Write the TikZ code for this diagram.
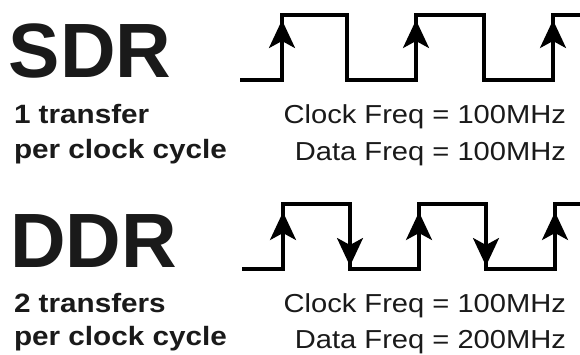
\documentclass[tikz,border=0pt]{standalone}
\usepackage{fontspec}
\setmainfont{Liberation Sans}
\newfontfamily\wfont[FakeStretch=1.12]{Liberation Sans}
\usetikzlibrary{arrows.meta}
\definecolor{ink}{HTML}{1A1A1A}
\tikzset{
  wave/.style={line width=3.2pt, line join=miter, black},
  edgearrow/.style={line width=3.2pt, black, -{Stealth[length=28pt,width=26pt,inset=7pt]}},
  bigtitle/.style={anchor=base west, inner sep=0pt, outer sep=0pt, text=ink, font=\fontsize{77}{77}\selectfont\bfseries},
  subtext/.style={anchor=base west, inner sep=0pt, outer sep=0pt, text=ink, font=\wfont\fontsize{26.5}{26.5}\selectfont\bfseries},
  freqtext/.style={anchor=base east, inner sep=0pt, outer sep=0pt, text=ink, font=\wfont\fontsize{26}{26}\selectfont},
}
\begin{document}
\begin{tikzpicture}[x=1pt,y=-1pt]
\useasboundingbox[fill=white] (0,0) rectangle (580,354);
% SDR text
\node[bigtitle] (sdr) at (9,77) {SDR};
\node[subtext] (s1) at (14,123) {1 transfer};
\node[subtext] (s2) at (14,158) {per clock cycle};
\node[freqtext] (sclk) at (566,123) {Clock Freq = 100MHz};
\node[freqtext] (sdat) at (566,160) {Data Freq = 100MHz};
% DDR text
\node[bigtitle] (ddr) at (10,267) {DDR};
\node[subtext] (d1) at (14,312) {2 transfers};
\node[subtext] (d2) at (14,345) {per clock cycle};
\node[freqtext] (dclk) at (566,312) {Clock Freq = 100MHz};
\node[freqtext] (ddat) at (566,348) {Data Freq = 200MHz};
% SDR waveform
\draw[wave] (240,80) -- (282,80) -- (282,15) -- (347,15) -- (347,80) -- (416,80) -- (416,15) -- (484,15) -- (484,80) -- (553,80) -- (553,15) -- (584,15);
\draw[edgearrow] (282,70) -- (282,20);
\draw[edgearrow] (416,70) -- (416,20);
\draw[edgearrow] (553,70) -- (553,20);
% DDR waveform
\draw[wave] (242,269) -- (283,269) -- (283,204) -- (350,204) -- (350,269) -- (419,269) -- (419,204) -- (486,204) -- (486,269) -- (555,269) -- (555,204) -- (584,204);
\draw[edgearrow] (283,255) -- (283,212);
\draw[edgearrow] (419,255) -- (419,212);
\draw[edgearrow] (555,255) -- (555,212);
\draw[edgearrow] (350,215) -- (350,266);
\draw[edgearrow] (486,215) -- (486,266);
\end{tikzpicture}
\end{document}
